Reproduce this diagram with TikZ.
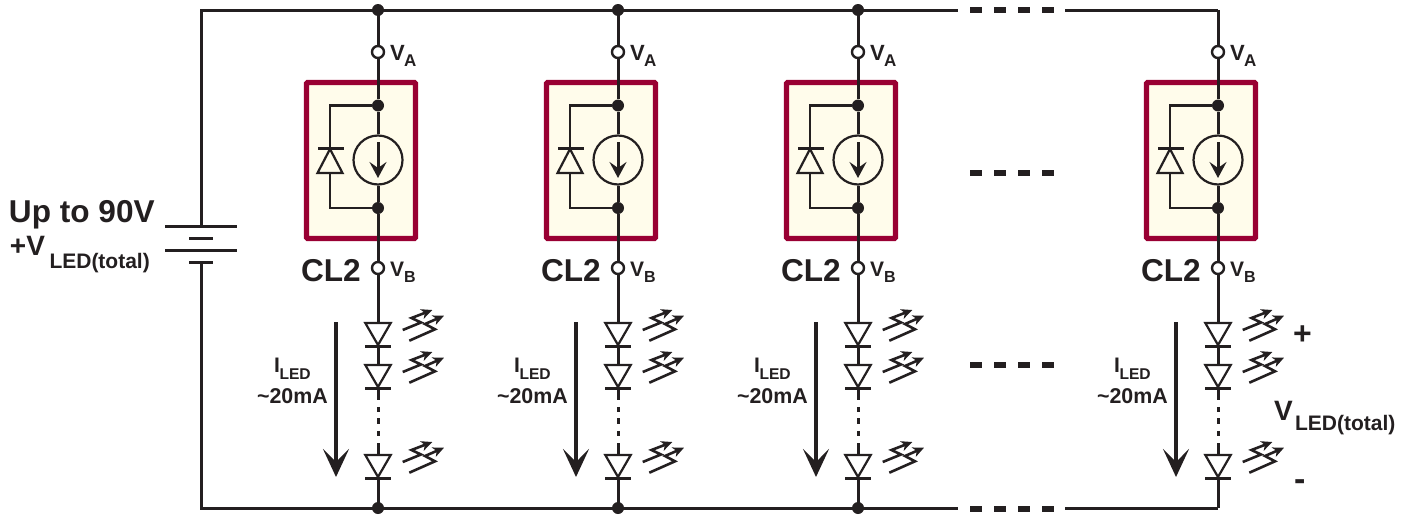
\documentclass[tikz,border=0pt]{standalone}
\usepackage{fontspec}
\setmainfont{Liberation Sans}[BoldFont={Liberation Sans Bold}]
\usetikzlibrary{arrows.meta}
\definecolor{ink}{HTML}{231F20}
\definecolor{boxred}{HTML}{990033}
\definecolor{boxfill}{HTML}{FFFCEB}
\newcommand{\fs}[1]{\fontsize{#1}{#1}\selectfont\bfseries}
\tikzset{
  wire/.style={draw=ink,line width=1.5pt},
  thin wire/.style={draw=ink,line width=1.1pt},
  dot/.style={circle,fill=ink,inner sep=0pt,minimum size=6pt},
  opendot/.style={circle,draw=ink,fill=white,line width=1.2pt,inner sep=0pt,minimum size=6pt},
  dashbar/.style={draw=ink,line width=3pt},
  lbl/.style={inner sep=0pt,outer sep=0pt,text=ink,anchor=base west},
  clbox/.style={draw=boxred,fill=boxfill,line width=2.6pt,rounded corners=0.5pt,outer sep=0pt,inner sep=0pt,minimum width=54.5pt,minimum height=78pt,anchor=north west},
  ray/.style={draw=ink,line width=1.3pt,line join=miter,-{Stealth[length=5.5pt,width=5pt,inset=1.5pt]}},
  pics/led/.style={code={
    \draw[thin wire,fill=white,line join=miter] (-12.7,0) -- (12.7,0) -- (0,22) -- cycle;
    \draw[wire] (-13,23) -- (13,23);
    \draw[ray] (24.7,7) -- (43,-0.5) -- (33.5,-5) -- (54.3,-13);
    \draw[ray] (31.3,17.7) -- (57,6.3) -- (47,1) -- (66,-7.3);
  }}
}
\begin{document}
\begin{tikzpicture}[x=0.5pt,y=-0.5pt,line cap=butt]
\useasboundingbox (0,0) rectangle (1416,514);

% supply rails and battery
\coordinate (railTL) at (201,10);
\coordinate (railBL) at (201,508);
\coordinate (railTE) at (958,10);
\coordinate (railTR) at (1065,10);
\coordinate (railBE) at (958,508);
\coordinate (railBR) at (1065,508);
\coordinate (battTop) at (201,226);
\coordinate (battBot) at (201,262);
\coordinate (corTR) at (1218,10);
\coordinate (corBR) at (1218,508);
\draw[wire] (battTop) -- (railTL) -- (railTE);
\draw[wire] (battBot) -- (railBL) -- (railBE);
\draw[wire] (railTR) -- (corTR);
\draw[wire] (railBR) -- (corBR);
\draw[wire] (165,226) -- (237,226);
\draw[wire] (189,238.5) -- (213,238.5);
\draw[wire] (165,250) -- (237,250);
\draw[wire] (189,262) -- (213,262);

\node[lbl] (upto) at (9,222) {\fs{15.8pt}Up to 90V};
\node[lbl] (plusv) at (10,255) {\fs{14pt}+V};
\node[lbl] (plusvs) at (49.5,268) {\fs{10.5pt}LED(total)};

% columns
\foreach \c/\x in {a/378,b/618,c/858,d/1218}{
  \begin{scope}[shift={(\x,0)}]
    \node[clbox] (box\c) at (-71.5,82.5) {};
    \coordinate (top\c) at (0,10);
    \coordinate (bot\c) at (0,508);
    \node[opendot] (va\c) at (0,52) {};
    \node[opendot] (vb\c) at (0,268) {};
    \node[dot] (j1\c) at (0,105.5) {};
    \node[dot] (j2\c) at (0,208) {};
    \node[circle,draw=ink,fill=none,line width=1.1pt,inner sep=0pt,minimum size=24.5pt] (src\c) at (0,160) {};
    \coordinate (arrS\c) at (0,142);
    \coordinate (arrE\c) at (0,178);
    \coordinate (dk\c) at (-48,105.5);
    \coordinate (dl\c) at (-48,208);
    \coordinate (db\c) at (-48,148);
    \coordinate (dt\c) at (-48,173);
    % main wire
    \draw[wire] (top\c) -- (va\c);
    \draw[wire] (va\c) -- (j1\c);
    \draw[wire] (j1\c) -- (src\c);
    \draw[wire] (src\c) -- (j2\c);
    \draw[wire] (j2\c) -- (vb\c);
    \coordinate (l1\c) at (0,323);
    \coordinate (l1e\c) at (0,346);
    \coordinate (l2\c) at (0,364);
    \coordinate (l2e\c) at (0,388);
    \coordinate (l3\c) at (0,454);
    \coordinate (l3e\c) at (0,478);
    \draw[wire] (vb\c) -- (l1\c);
    \draw[wire] (l1e\c) -- (l2\c);
    \draw[wire] (l3e\c) -- (bot\c);
    \draw[wire,dash pattern=on 6pt off 3.4pt on 2.5pt off 3.2pt on 3pt off 3.3pt on 2.7pt off 3.5pt on 20pt] (l2e\c) -- (l3\c);
    % inner diode path
    \draw[thin wire] (j1\c) -- (dk\c) -- (db\c);
    \draw[thin wire] (dt\c) -- (dl\c) -- (j2\c);
    \draw[thin wire,fill=boxfill,line join=miter] (-60.5,173) -- (-35.5,173) -- (-48,149) -- cycle;
    \draw[wire] (-60,148) -- (-34,148);
    \draw[wire,-{Stealth[length=8pt,width=8.5pt,inset=3pt]}] (arrS\c) -- (arrE\c);
    % LEDs
    \pic at (0,323) {led};
    \pic at (0,365) {led};
    \pic at (0,455) {led};
    % current arrow
    \coordinate (iS\c) at (-42,322);
    \coordinate (iE\c) at (-42,477);
    \draw[line width=1.6pt,draw=ink,-{Stealth[length=14pt,width=13pt,inset=6.5pt]}] (iS\c) -- (iE\c);
    % labels
    \node[lbl] (tva\c) at (12,60.5) {\fs{11pt}V};
    \node[lbl] (tvas\c) at (26,66) {\fs{8.5pt}A};
    \node[lbl] (tvb\c) at (12,276) {\fs{10.5pt}V};
    \node[lbl] (tvbs\c) at (26,282) {\fs{8pt}B};
    \node[lbl] (cl\c) at (-77,281) {\fs{15.8pt}CL2};
    \node[lbl] (il\c) at (-104,372) {\fs{10.5pt}I};
    \node[lbl] (ils\c) at (-98.5,379) {\fs{7.8pt}LED};
    \node[lbl] (ma\c) at (-121,403) {\fs{10.7pt}\textasciitilde20mA};
  \end{scope}
}
\node[dot] (da) at (378,10) {}; \node[dot] (db) at (618,10) {}; \node[dot] (dc) at (858,10) {};
\node[dot] (ea) at (378,508) {}; \node[dot] (eb) at (618,508) {}; \node[dot] (ec) at (858,508) {};

% ellipsis bars
\foreach \y in {10.3,172.5,364.5,508.5}{
  \foreach \xx in {970,994,1018,1042}{
    \draw[dashbar] (\xx,\y) -- +(12,0);
  }
}

% voltage labels at right
\node[lbl] (plus) at (1293,344) {\fs{16pt}+};
\node[lbl] (vled) at (1274,420) {\fs{14pt}V};
\node[lbl] (vleds) at (1295,430) {\fs{10.5pt}LED(total)};
\node[lbl] (minus) at (1294,490) {\fs{17pt}-};
\end{tikzpicture}
\end{document}
